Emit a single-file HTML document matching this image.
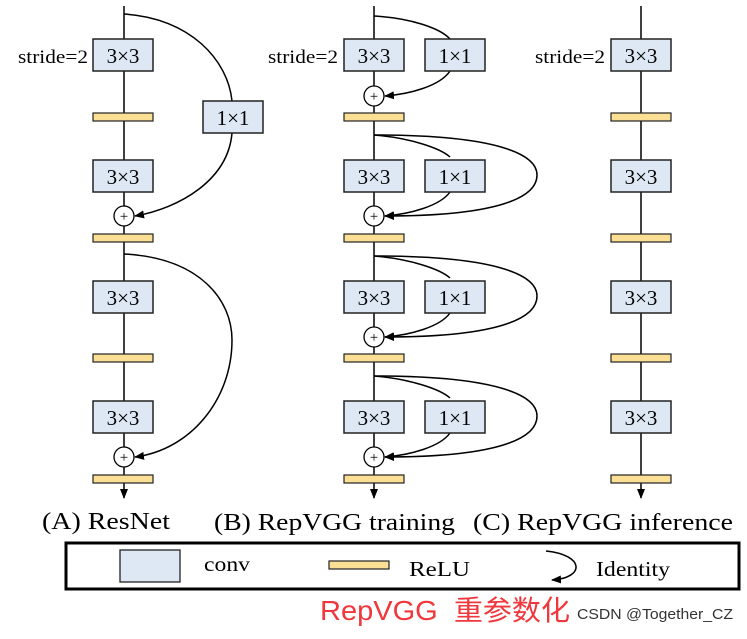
<!DOCTYPE html><html><head><style>body{margin:0;background:#fff}</style></head><body>
<svg width="747" height="634" xmlns="http://www.w3.org/2000/svg" font-family="Liberation Serif, serif">
<defs><marker id="a" markerWidth="10" markerHeight="8" refX="9" refY="4" orient="auto" markerUnits="userSpaceOnUse"><path d="M0,0L10,4L0,8z" fill="#000"/></marker></defs>
<g stroke="#000" stroke-width="1.5" fill="none">
<line x1="124" y1="6" x2="124" y2="498" marker-end="url(#a)"/>
<line x1="374" y1="6" x2="374" y2="498" marker-end="url(#a)"/>
<line x1="641" y1="6" x2="641" y2="498" marker-end="url(#a)"/>
<path d="M124,14 C190,18 228,60 232,101"/>
<path d="M232,133 C228,180 180,208 135,216" marker-end="url(#a)"/>
<path d="M124,254 C200,258 232,300 232,340 C232,400 190,450 135,457" marker-end="url(#a)"/>
<path d="M374,16 C410,18 440,28 450,39"/>
<path d="M450,71 C440,86 410,94 385,96" marker-end="url(#a)"/>
<g id="blk">
<path d="M374,135 C410,138 440,148 450,157"/>
<path d="M450,192 C440,206 410,214 385,216" marker-end="url(#a)"/>
<path d="M374,135 C500,135 537,155 537,175 C537,200 490,216 385,216" marker-end="url(#a)"/>
</g>
<use href="#blk" y="121"/>
<use href="#blk" y="241"/>
</g>
<g fill="#dde8f4" stroke="#222" stroke-width="1.5">
<rect x="93" y="39" width="60" height="32"/><rect x="93" y="160" width="60" height="32"/><rect x="93" y="281" width="60" height="32"/><rect x="93" y="401" width="60" height="32"/>
<rect x="203" y="101" width="60" height="32"/>
<rect x="344" y="39" width="60" height="32"/><rect x="344" y="160" width="60" height="32"/><rect x="344" y="281" width="60" height="32"/><rect x="344" y="401" width="60" height="32"/>
<rect x="425" y="39" width="60" height="32"/><rect x="425" y="160" width="60" height="32"/><rect x="425" y="281" width="60" height="32"/><rect x="425" y="401" width="60" height="32"/>
<rect x="611" y="39" width="60" height="32"/><rect x="611" y="160" width="60" height="32"/><rect x="611" y="281" width="60" height="32"/><rect x="611" y="401" width="60" height="32"/>
</g>
<g fill="#fbdf94" stroke="#222" stroke-width="1.2">
<rect x="93" y="113" width="60" height="8"/><rect x="93" y="234" width="60" height="8"/><rect x="93" y="354" width="60" height="8"/><rect x="93" y="475" width="60" height="8"/>
<rect x="344" y="113" width="60" height="8"/><rect x="344" y="234" width="60" height="8"/><rect x="344" y="354" width="60" height="8"/><rect x="344" y="475" width="60" height="8"/>
<rect x="611" y="113" width="60" height="8"/><rect x="611" y="234" width="60" height="8"/><rect x="611" y="354" width="60" height="8"/><rect x="611" y="475" width="60" height="8"/>
</g>
<g fill="#fff" stroke="#000" stroke-width="1.3">
<circle cx="124" cy="216" r="10"/><circle cx="124" cy="457" r="10"/>
<circle cx="374" cy="96" r="10"/><circle cx="374" cy="216" r="10"/><circle cx="374" cy="337" r="10"/><circle cx="374" cy="457" r="10"/>
</g>
<g font-size="15" text-anchor="middle">
<text x="124" y="221">+</text><text x="124" y="462">+</text><text x="374" y="101">+</text><text x="374" y="221">+</text><text x="374" y="342">+</text><text x="374" y="462">+</text>
</g>
<g font-size="21" text-anchor="middle">
<text x="123" y="63">3×3</text><text x="123" y="184">3×3</text><text x="123" y="305">3×3</text><text x="123" y="425">3×3</text>
<text x="233" y="125">1×1</text>
<text x="374" y="63">3×3</text><text x="374" y="184">3×3</text><text x="374" y="305">3×3</text><text x="374" y="425">3×3</text>
<text x="455" y="63">1×1</text><text x="455" y="184">1×1</text><text x="455" y="305">1×1</text><text x="455" y="425">1×1</text>
<text x="641" y="63">3×3</text><text x="641" y="184">3×3</text><text x="641" y="305">3×3</text><text x="641" y="425">3×3</text>
</g>
<g font-size="19">
<text x="18" y="63" textLength="70" lengthAdjust="spacingAndGlyphs">stride=2</text>
<text x="268" y="63" textLength="70" lengthAdjust="spacingAndGlyphs">stride=2</text>
<text x="535" y="63" textLength="70" lengthAdjust="spacingAndGlyphs">stride=2</text>
</g>
<g font-size="24">
<text x="42" y="529" textLength="128" lengthAdjust="spacingAndGlyphs">(A) ResNet</text>
<text x="214" y="530" textLength="241" lengthAdjust="spacingAndGlyphs">(B) RepVGG training</text>
<text x="473" y="530" textLength="260" lengthAdjust="spacingAndGlyphs">(C) RepVGG inference</text>
</g>
<rect x="66" y="543" width="673" height="46" fill="none" stroke="#000" stroke-width="3"/>
<rect x="120" y="550" width="60" height="32" fill="#dde8f4" stroke="#222" stroke-width="1.3"/>
<text x="204" y="571" font-size="21" textLength="46" lengthAdjust="spacingAndGlyphs">conv</text>
<rect x="329" y="561" width="60" height="8" fill="#fbdf94" stroke="#222" stroke-width="1.2"/>
<text x="409" y="576" font-size="21" textLength="61" lengthAdjust="spacingAndGlyphs">ReLU</text>
<path d="M546,551 C585,555 585,578 552,580" fill="none" stroke="#000" stroke-width="1.5" marker-end="url(#a)"/>
<text x="596" y="576" font-size="21" textLength="74" lengthAdjust="spacingAndGlyphs">Identity</text>
<text x="320" y="620" font-size="28" fill="#f0373c" font-family="Liberation Sans, Noto Sans CJK SC, sans-serif" textLength="250" lengthAdjust="spacingAndGlyphs">RepVGG&#160;&#160;重参数化</text>
<text x="577" y="619" font-size="15" fill="#333" font-family="Liberation Sans, sans-serif" textLength="156" lengthAdjust="spacingAndGlyphs">CSDN @Together_CZ</text>
</svg></body></html>
